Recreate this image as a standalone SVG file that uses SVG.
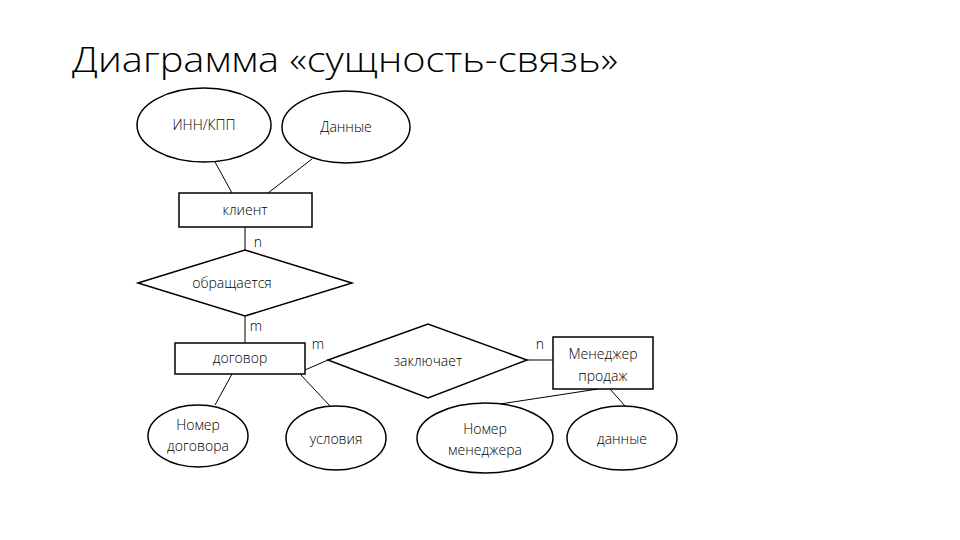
<svg xmlns="http://www.w3.org/2000/svg" width="960" height="540" viewBox="0 0 960 540">
<style>
.s{fill:#fff;stroke:#000;stroke-width:1.5}
.t{font-family:"Open Sans","Liberation Sans",sans-serif;font-size:14px;font-weight:300;text-anchor:middle;fill:#000}
.l{stroke:#000;stroke-width:1}
</style>
<rect width="960" height="540" fill="#fff"/>
<text x="72" y="72" font-family="Open Sans, Liberation Sans, sans-serif" font-weight="300" font-size="35" textLength="546" lengthAdjust="spacingAndGlyphs" fill="#000">Диаграмма «сущность-связь»</text>
<g id="connectors">
<line class="l" x1="215" y1="162" x2="232" y2="193"/>
<line class="l" x1="312" y1="159" x2="268" y2="193"/>
<line class="l" x1="245" y1="227" x2="245" y2="250"/>
<line class="l" x1="245" y1="316" x2="245" y2="343"/>
<line class="l" x1="305" y1="370" x2="328" y2="360"/>
<line class="l" x1="527" y1="360" x2="553" y2="360"/>
<line class="l" x1="215" y1="405" x2="232" y2="374"/>
<line class="l" x1="330" y1="406" x2="300" y2="374"/>
<line class="l" x1="500" y1="404" x2="598" y2="389"/>
<line class="l" x1="625" y1="406" x2="610" y2="389"/>
</g>
<g id="inn"><ellipse class="s" cx="204" cy="125" rx="67" ry="37"/><text class="t" x="204" y="130">ИНН/КПП</text></g>
<g id="dannye"><ellipse class="s" cx="346" cy="127" rx="64" ry="36"/><text class="t" x="346" y="132">Данные</text></g>
<g id="klient"><rect class="s" x="179" y="193" width="133" height="34"/><text class="t" x="245" y="215">клиент</text></g>
<text class="t" x="258" y="247">n</text>
<g id="obr"><polygon class="s" points="138,283 245,250 352,283 245,316"/><text class="t" x="232" y="288">обращается</text></g>
<text class="t" x="256" y="331">m</text>
<g id="dogovor"><rect class="s" x="175" y="343" width="130" height="31"/><text class="t" x="240" y="363">договор</text></g>
<text class="t" x="318" y="349">m</text>
<g id="zakl"><polygon class="s" points="328,360 428,324 527,360 428,398"/><text class="t" x="428" y="366">заключает</text></g>
<text class="t" x="540" y="349">n</text>
<g id="menedzher"><rect class="s" x="553" y="337" width="100" height="52"/><text class="t" x="603" y="359">Менеджер</text><text class="t" x="603" y="381">продаж</text></g>
<g id="nomdog"><ellipse class="s" cx="198" cy="436" rx="50" ry="31"/><text class="t" x="198" y="430">Номер</text><text class="t" x="198" y="451">договора</text></g>
<g id="usl"><ellipse class="s" cx="336" cy="438" rx="50" ry="32"/><text class="t" x="336" y="444">условия</text></g>
<g id="nomman"><ellipse class="s" cx="485" cy="438" rx="68" ry="35"/><text class="t" x="485" y="434">Номер</text><text class="t" x="485" y="455">менеджера</text></g>
<g id="dannye2"><ellipse class="s" cx="622" cy="438" rx="55" ry="32"/><text class="t" x="622" y="444">данные</text></g>
</svg>
